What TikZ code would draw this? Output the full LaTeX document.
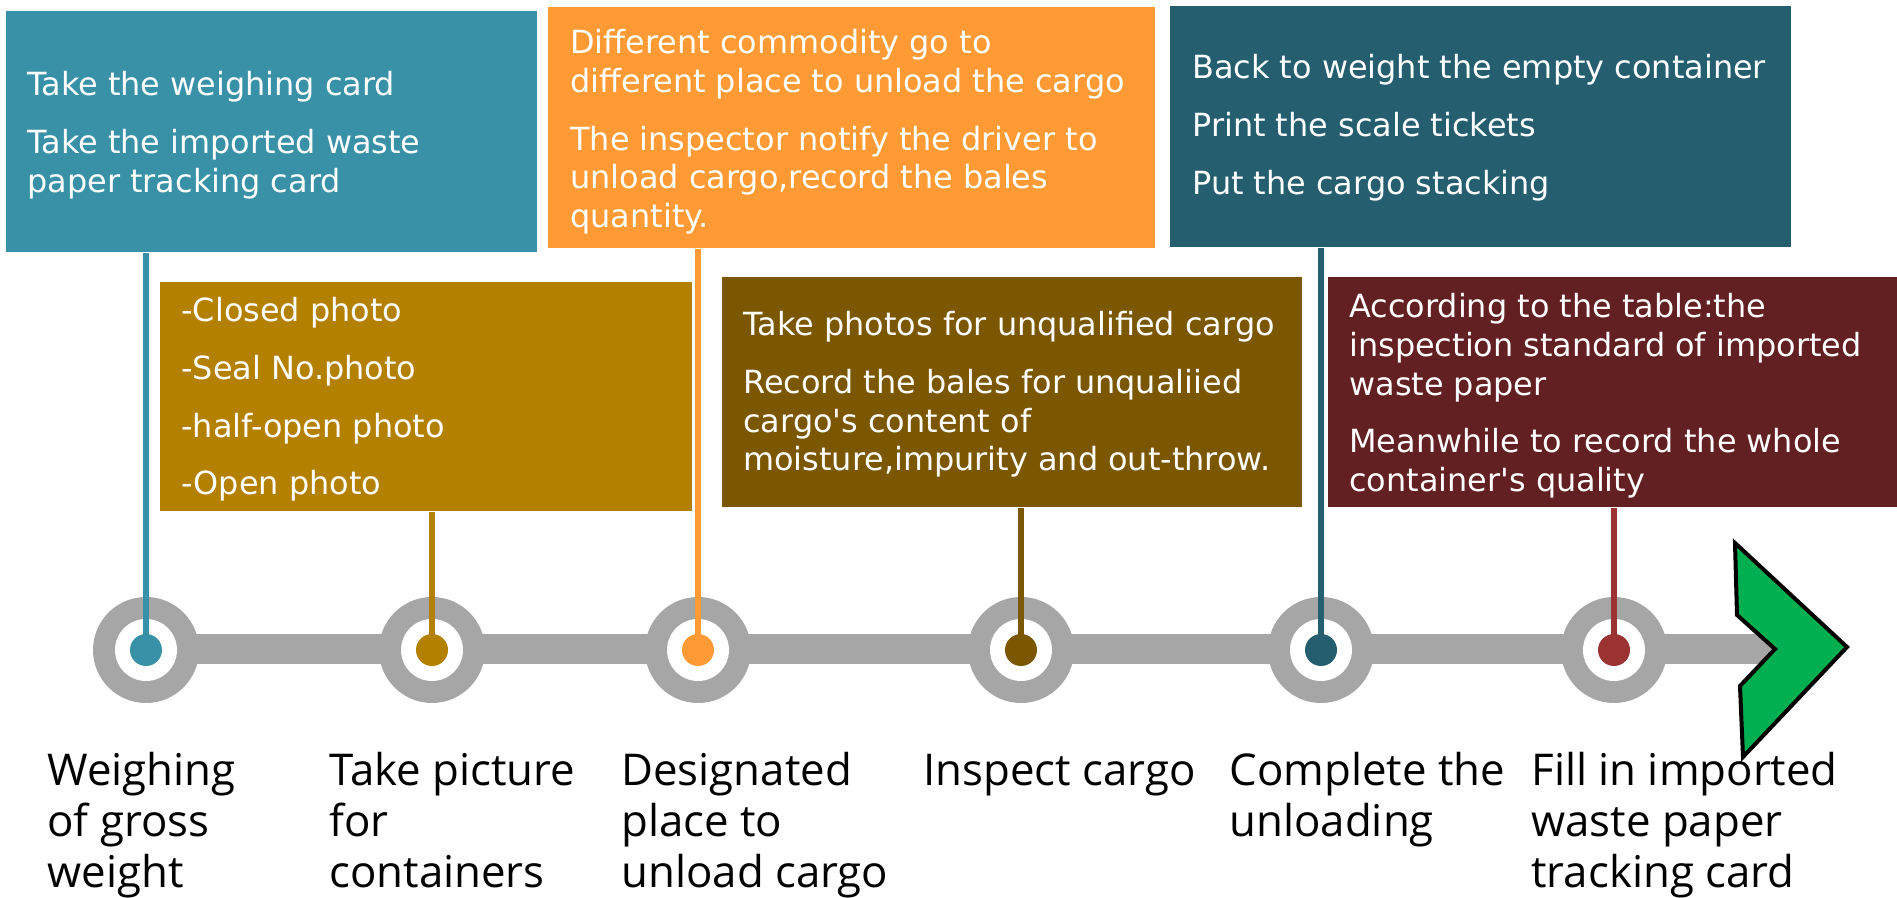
\documentclass[tikz,border=0pt]{standalone}
\usepackage{fontspec}
\setmainfont{DejaVu Sans}
\newfontfamily\labelfont{Open Sans}
\definecolor{cA}{HTML}{3891A7}
\definecolor{cB}{HTML}{B48000}
\definecolor{cC}{HTML}{FF9A35}
\definecolor{cD}{HTML}{7A5700}
\definecolor{cE}{HTML}{255E6F}
\definecolor{cF}{HTML}{632022}
\definecolor{cFline}{HTML}{9B3333}
\definecolor{ringgray}{HTML}{A6A6A6}
\definecolor{arrowgreen}{HTML}{00B050}
\newcommand\btx[1]{\parbox[t]{330pt}{\raggedright\setlength\parskip{9.5pt}#1}}
\newcommand\ltx[1]{\parbox[t]{200pt}{\raggedright #1}}
\begin{document}
\begin{tikzpicture}[x=0.5pt,y=-0.5pt,
  card/.style={rectangle, draw=none, inner sep=0pt, anchor=north west},
  btext/.style={anchor=base west, inner sep=0pt, text=white, font=\fontsize{15.95pt}{19.3pt}\selectfont},
  ring/.style={circle, fill=ringgray, minimum size=53pt, inner sep=0pt},
  hole/.style={circle, fill=white, minimum size=31pt, inner sep=0pt},
  dot/.style={circle, minimum size=16pt, inner sep=0pt},
  conn/.style={line width=2.75pt},
  lbl/.style={anchor=base west, inner sep=0pt, text=black, font=\labelfont\fontsize{21.9pt}{25.5pt}\selectfont}]
\useasboundingbox (0,0) rectangle (1897,898);

% boxes
\node[card, fill=cA, minimum width=265.5pt, minimum height=120.5pt] (b1) at (6,11) {};
\node[card, fill=cC, minimum width=303.5pt, minimum height=120.5pt] (b2) at (548,7) {};
\node[card, fill=cE, minimum width=310.5pt, minimum height=120.5pt] (b3) at (1170,6) {};
\node[card, fill=cB, minimum width=266pt, minimum height=114.5pt] (b4) at (160,282) {};
\node[card, fill=cD, minimum width=290pt, minimum height=115pt] (b5) at (722,277) {};
\node[card, fill=cF, minimum width=284.5pt, minimum height=115pt] (b6) at (1328,277) {};

% box texts
\node[btext] (t1) at (27,96) {\btx{Take the weighing card\par Take the imported waste\\paper tracking card}};
\node[btext] (t2) at (570,54) {\btx{Different commodity go to\\different place to unload the cargo\par The inspector notify the driver to\\unload cargo,record the bales\\quantity.}};
\node[btext] (t3) at (1192,79) {\btx{Back to weight the empty container\par Print the scale tickets\par Put the cargo stacking}};
\node[btext] (t4) at (181,322) {\btx{-Closed photo\par -Seal No.photo\par -half-open photo\par -Open photo}};
\node[btext] (t5) at (743,336) {\btx{Take photos for unqualified cargo\par Record the bales for unqualiied\\cargo\textquotesingle s content of\\moisture,impurity and out-throw.}};
\node[btext] (t6) at (1349,318) {\btx{According to the table:the\\inspection standard of imported\\waste paper\par Meanwhile to record the whole\\container\textquotesingle s quality}};

% timeline bar
\coordinate (notch) at (1775,649);
\coordinate (start) at (146,649);
\draw[line width=14.5pt, ringgray] (start) -- (notch);

% rings
\foreach \i/\x in {1/146, 2/432, 3/698, 4/1021, 5/1321, 6/1614} {
  \node[ring] (r\i) at (\x,650) {};
  \node[hole] (h\i) at (r\i) {};
}

% connectors
\draw[conn, cA] (b1.south -| r1) -- (r1.center);
\draw[conn, cB] (b4.south -| r2) -- (r2.center);
\draw[conn, cC] (b2.south -| r3) -- (r3.center);
\draw[conn, cD] (b5.south -| r4) -- (r4.center);
\draw[conn, cE] (b3.south -| r5) -- (r5.center);
\draw[conn, cFline] (b6.south -| r6) -- (r6.center);

% dots
\node[dot, fill=cA] (d1) at (r1) {};
\node[dot, fill=cB] (d2) at (r2) {};
\node[dot, fill=cC] (d3) at (r3) {};
\node[dot, fill=cD] (d4) at (r4) {};
\node[dot, fill=cE] (d5) at (r5) {};
\node[dot, fill=cFline] (d6) at (r6) {};

% arrow head
\draw[fill=arrowgreen, draw=black, line width=2pt, line join=miter]
  (1735,543) -- (1847,647) -- (1743,757) -- (1740,686) -- (notch) -- (1737,615) -- cycle;

% labels
\node[lbl] (l1) at (47,785) {\ltx{Weighing\\of gross\\weight}};
\node[lbl] (l2) at (329,785) {\ltx{Take picture\\for\\containers}};
\node[lbl] (l3) at (621,785) {\ltx{Designated\\place to\\unload cargo}};
\node[lbl] (l4) at (923,785) {\ltx{Inspect cargo}};
\node[lbl] (l5) at (1229,785) {\ltx{Complete the\\unloading}};
\node[lbl] (l6) at (1531,785) {\ltx{Fill in imported\\waste paper\\tracking card}};
\end{tikzpicture}
\end{document}
